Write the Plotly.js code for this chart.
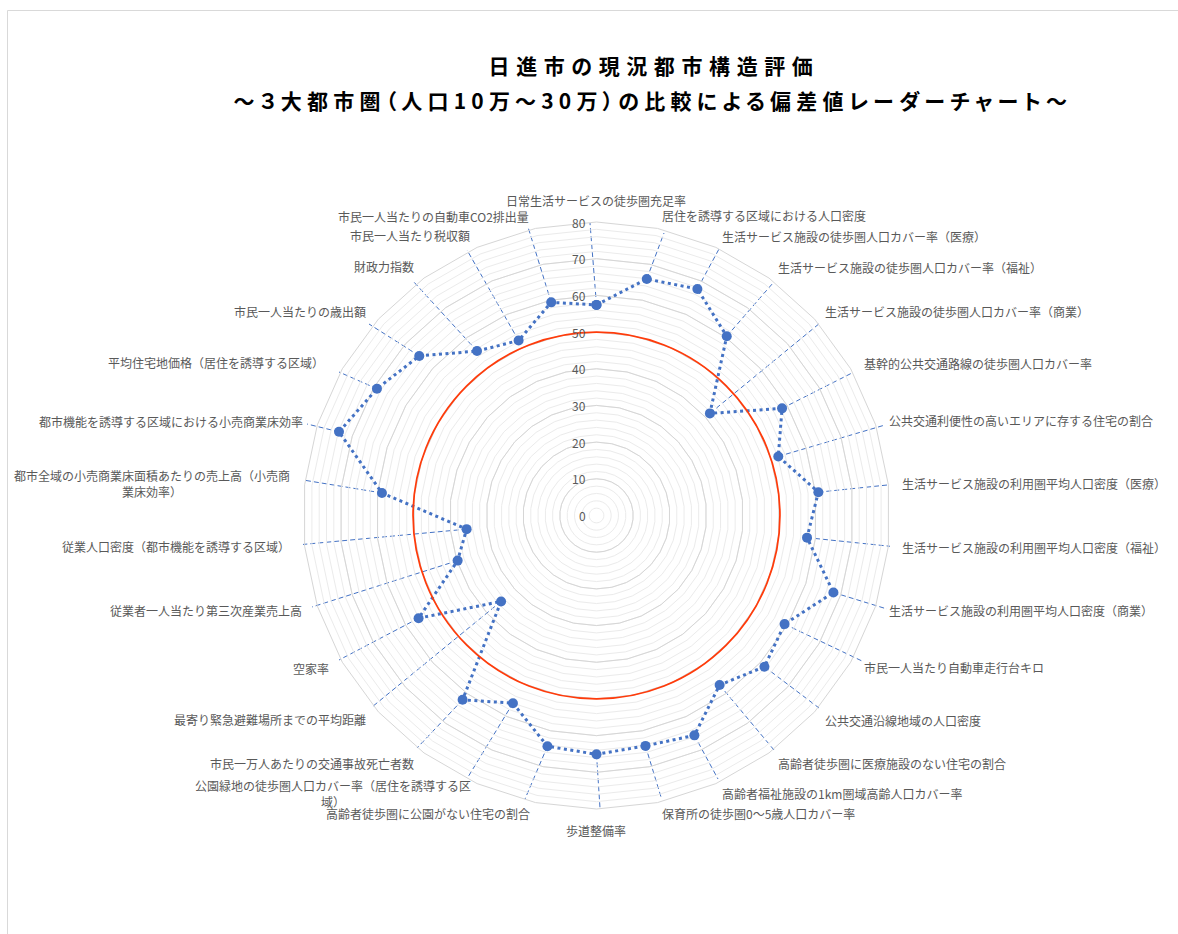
<!DOCTYPE html>
<html>
<head>
<meta charset="utf-8">
<script src="https://cdn.plot.ly/plotly-3.0.1.min.js"></script>
<style>
  body { margin: 0; background: #fff; }
  .gtitle { letter-spacing: 6.6px; font-feature-settings: "palt"; }
  .annotation[data-index="30"] text { letter-spacing: 5.2px; font-feature-settings: "palt"; }
</style>
</head>
<body>
<div id="chart" style="width:1178px;height:934px;"></div>
<script>
// 評価指標（時計回り、真上から）
const categories = [
  '日常生活サービスの徒歩圏充足率',
  '居住を誘導する区域における人口密度',
  '生活サービス施設の徒歩圏人口カバー率（医療）',
  '生活サービス施設の徒歩圏人口カバー率（福祉）',
  '生活サービス施設の徒歩圏人口カバー率（商業）',
  '基幹的公共交通路線の徒歩圏人口カバー率',
  '公共交通利便性の高いエリアに存する住宅の割合',
  '生活サービス施設の利用圏平均人口密度（医療）',
  '生活サービス施設の利用圏平均人口密度（福祉）',
  '生活サービス施設の利用圏平均人口密度（商業）',
  '市民一人当たり自動車走行台キロ',
  '公共交通沿線地域の人口密度',
  '高齢者徒歩圏に医療施設のない住宅の割合',
  '高齢者福祉施設の1km圏域高齢人口カバー率',
  '保育所の徒歩圏0～5歳人口カバー率',
  '歩道整備率',
  '高齢者徒歩圏に公園がない住宅の割合',
  '公園緑地の徒歩圏人口カバー率（居住を誘導する区域）',
  '市民一万人あたりの交通事故死亡者数',
  '最寄り緊急避難場所までの平均距離',
  '空家率',
  '従業者一人当たり第三次産業売上高',
  '従業人口密度（都市機能を誘導する区域）',
  '都市全域の小売商業床面積あたりの売上高（小売商業床効率）',
  '都市機能を誘導する区域における小売商業床効率',
  '平均住宅地価格（居住を誘導する区域）',
  '市民一人当たりの歳出額',
  '財政力指数',
  '市民一人当たり税収額',
  '市民一人当たりの自動車CO2排出量'
];

// 日進市の偏差値
const scores = [
  57.4, 65.9, 67.6, 60.4, 41.6, 58.4, 52.1, 60.8, 57.7, 67.9,
  59.2, 61.6, 57.1, 65.6, 64.2, 65.1, 64.3, 56.0, 62.1, 35.0,
  56.0, 39.8, 35.6, 58.8, 73.8, 69.1, 65.0, 55.4, 52.2, 59.4
];

// 平均（偏差値50）
const average = 50;
const radialMax = 80;
const radialTicks = [0, 10, 20, 30, 40, 50, 60, 70, 80];

const titleText = '日進市の現況都市構造評価';
const subtitleText = '～３大都市圏（人口10万～30万）の比較による偏差値レーダーチャート～';

// page geometry (px)
const W = 1178, H = 934;
const CX = 596.5, CY = 515.5, R = 293.5;

// label placement: [text x, text y, anchor, leader end x, leader end y, wrap index]
const labelPlace = [
  [596, 201, 'center', 590, 223, 0],
  [660, 216, 'left', 664, 233, 0],
  [720, 236, 'left', 719, 249, 0],
  [776, 268, 'left', 773, 283, 0],
  [823, 311, 'left', 820, 323, 0],
  [862, 363, 'left', 852, 373, 0],
  [887, 420, 'left', 885, 425, 0],
  [900, 483, 'left', 897, 484, 0],
  [900, 547, 'left', 897, 547, 0],
  [887, 610, 'left', 887, 609, 0],
  [862, 667, 'left', 862, 661, 0],
  [823, 720, 'left', 819, 708, 0],
  [776, 763, 'left', 774, 750, 0],
  [720, 793, 'left', 718, 779, 0],
  [660, 813, 'left', 661, 797, 0],
  [596, 830, 'center', 600, 808, 0],
  [532, 813, 'right', 525, 799, 0],
  [333, 793, 'center', 468, 777, 23],
  [416, 763, 'right', 417, 748, 0],
  [368, 719, 'right', 372, 707, 0],
  [331, 668, 'right', 339, 660, 0],
  [304, 610, 'right', 312, 607, 0],
  [292, 546, 'right', 297, 545, 0],
  [152, 483, 'center', 297, 479, 23],
  [305, 421, 'right', 307, 424, 0],
  [326, 362, 'right', 339, 372, 0],
  [368, 311, 'right', 369, 324, 0],
  [416, 267, 'right', 413, 281, 0],
  [472, 235, 'right', 467, 250, 0],
  [531, 217, 'right', 528, 227, 0]
];

const blue = '#4472C4';
const labelFont = { family: 'Noto Sans CJK JP', size: 12, color: '#595959' };
const titleFont = { family: 'Noto Sans CJK JP', size: 21, weight: 'bold', color: '#000000' };

const xDom = [(CX - R) / W, (CX + R) / W];
const yDom = [(H - CY - R) / H, (H - CY + R) / H];
const unit = radialMax / R; // data units per px

// leader lines from each point to its label
const leadX = [], leadY = [];
scores.forEach((v, i) => {
  const a = i * 2 * Math.PI / categories.length;
  const p = labelPlace[i];
  leadX.push(v * Math.sin(a), (p[3] - CX) * unit, null);
  leadY.push(v * Math.cos(a), (CY - p[4]) * unit, null);
});

const annotations = categories.map((c, i) => {
  const p = labelPlace[i];
  const txt = p[5] ? c.slice(0, p[5]) + '<br>' + c.slice(p[5]) : c;
  return {
    xref: 'paper', yref: 'paper',
    x: p[0] / W, y: 1 - p[1] / H,
    xanchor: p[2], yanchor: 'middle',
    align: 'center',
    text: txt, showarrow: false,
    font: labelFont
  };
});

// second title line
annotations.push({
  xref: 'paper', yref: 'paper',
  x: 653 / W, y: 1 - 100 / H,
  xanchor: 'center', yanchor: 'middle',
  text: subtitleText, showarrow: false,
  font: titleFont
});

// radial tick labels, left of the vertical spoke
radialTicks.forEach(t => {
  annotations.push({
    xref: 'x', yref: 'y', x: 0, y: t,
    xanchor: 'right', yanchor: 'middle', xshift: -9,
    text: String(t), showarrow: false,
    font: { family: 'Noto Sans CJK JP', size: 12, color: '#595959' }
  });
});

const traces = [
  // minor grid holder
  {
    type: 'scatterpolar', subplot: 'polar',
    r: scores, theta: categories,
    mode: 'none', hoverinfo: 'skip', showlegend: false
  },
  {
    type: 'scatter', xaxis: 'x', yaxis: 'y',
    x: leadX, y: leadY, mode: 'lines',
    line: { color: blue, width: 1, dash: '5px,3px' },
    hoverinfo: 'skip', showlegend: false
  },
  {
    type: 'scatterpolar', subplot: 'polar2',
    r: scores.concat([scores[0]]),
    theta: categories.concat([categories[0]]),
    mode: 'lines+markers',
    line: { color: blue, width: 3, dash: '3px,3.5px' },
    marker: { color: blue, size: 10 },
    name: '日進市', showlegend: false
  }
];

const angular = {
  direction: 'clockwise', rotation: 90,
  showticklabels: false, showgrid: false, ticks: ''
};

const layout = {
  width: W, height: H,
  margin: { l: 0, r: 0, t: 0, b: 0 },
  paper_bgcolor: '#FFFFFF',
  plot_bgcolor: 'rgba(0,0,0,0)',
  font: { family: 'Noto Sans CJK JP, sans-serif' },
  showlegend: false,
  title: {
    text: titleText,
    font: titleFont,
    x: 654 / W, xanchor: 'center', xref: 'paper',
    y: 1 - 67 / H, yanchor: 'middle', yref: 'container'
  },
  xaxis: { domain: xDom, range: [-radialMax, radialMax], visible: false, fixedrange: true },
  yaxis: { domain: yDom, range: [-radialMax, radialMax], visible: false, fixedrange: true },
  polar: {
    domain: { x: xDom, y: yDom },
    gridshape: 'linear',
    bgcolor: 'rgba(0,0,0,0)',
    radialaxis: {
      range: [0, radialMax], dtick: 2, showticklabels: false,
      showline: false, ticks: '', gridcolor: '#EBEBEB', angle: 90
    },
    angularaxis: Object.assign({ showline: false }, angular)
  },
  polar2: {
    domain: { x: xDom, y: yDom },
    gridshape: 'linear',
    bgcolor: 'rgba(0,0,0,0)',
    radialaxis: {
      range: [0, radialMax], dtick: 10, showline: false, ticks: '',
      showticklabels: false, gridcolor: '#D6D6D6', angle: 90
    },
    angularaxis: Object.assign({ showline: true, linecolor: '#D6D6D6', linewidth: 1 }, angular)
  },
  shapes: [
    {
      type: 'circle', xref: 'x', yref: 'y', layer: 'above',
      x0: -average, x1: average, y0: -average, y1: average,
      line: { color: '#FF3B0A', width: 1.75 }
    },
    {
      type: 'rect', xref: 'paper', yref: 'paper', layer: 'below',
      x0: 7.5 / W, x1: 1.05, y0: -0.05, y1: 1 - 10.5 / H,
      line: { color: '#D9D9D9', width: 1 }
    }
  ],
  annotations: annotations
};

Plotly.newPlot('chart', traces, layout, { displayModeBar: false, staticPlot: true });
</script>
</body>
</html>
